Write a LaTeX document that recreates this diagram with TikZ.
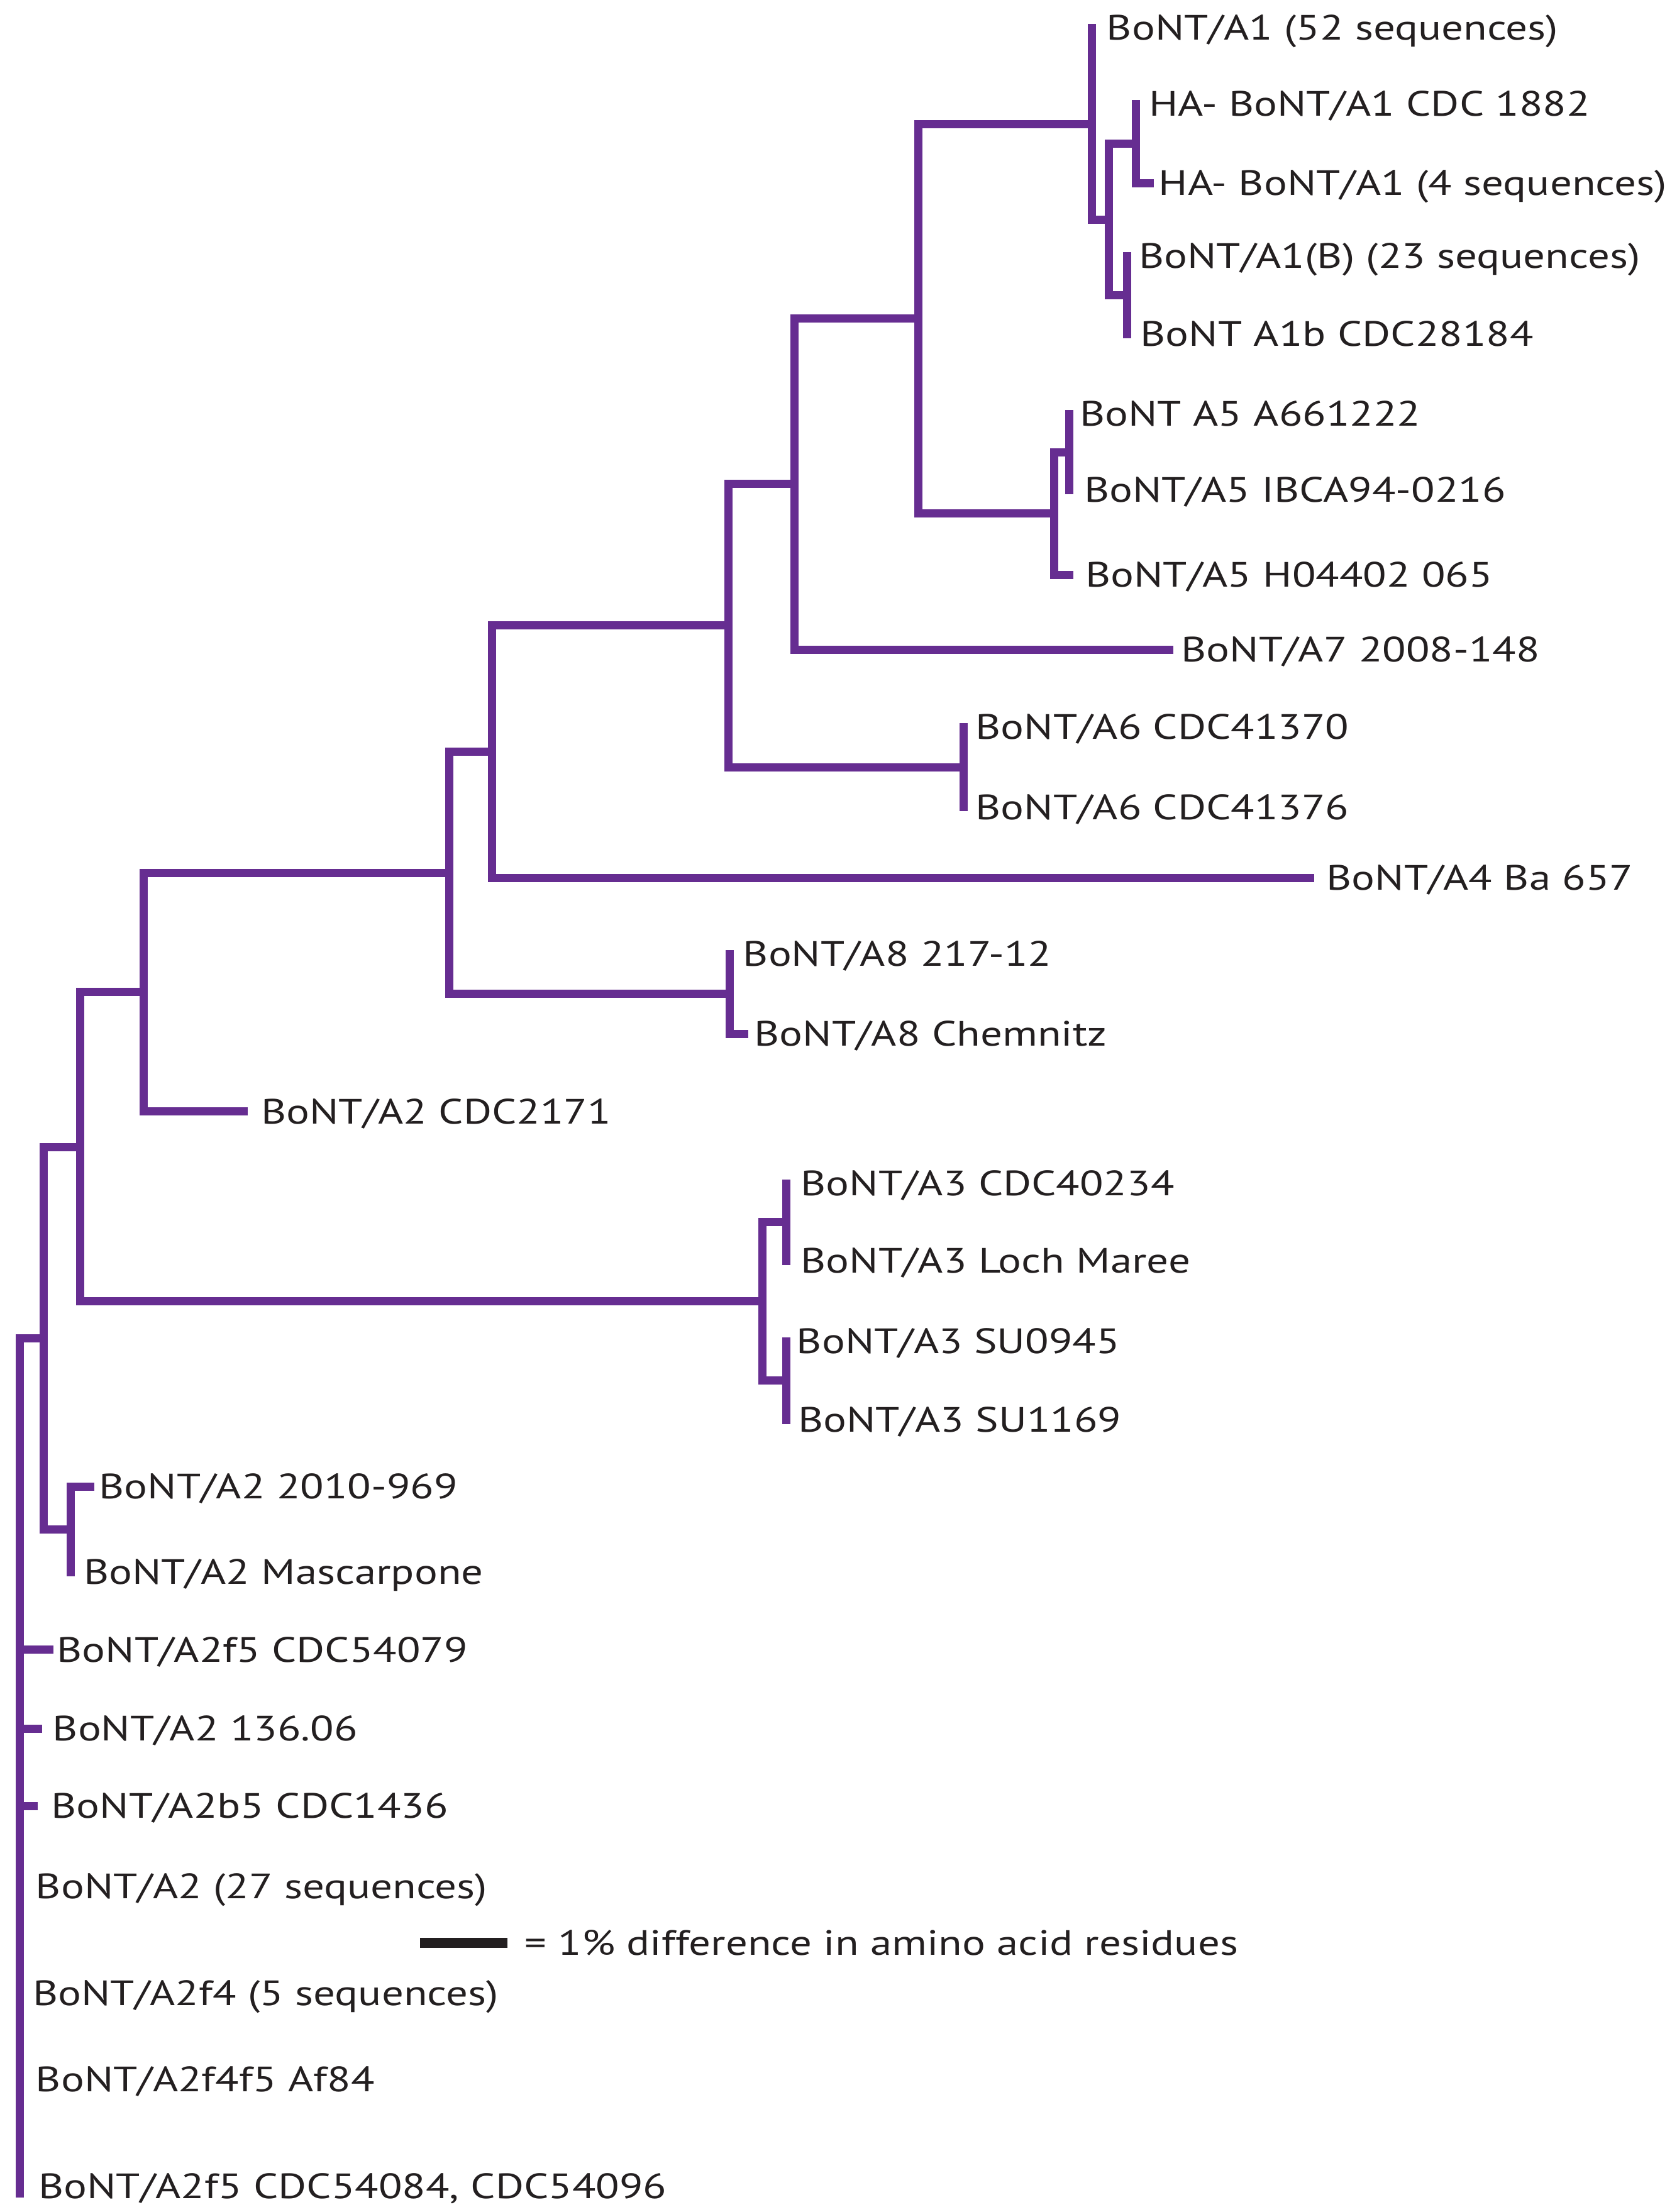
\documentclass[tikz,border=0pt]{standalone}
\usepackage{fontspec}
\setmainfont[FakeStretch=1.23]{PT Sans}
\usepackage{tikz}
\definecolor{treepurple}{RGB}{102,45,145}
\definecolor{labelblack}{RGB}{35,31,32}
\tikzset{
  branch/.style={draw=treepurple, line width=2.9pt, line cap=rect},
  leaf/.style={anchor=west, inner sep=0pt, text height=8.5pt, text depth=0pt, text=labelblack, font=\fontsize{12.5}{14}\selectfont},
  scalebar/.style={draw=labelblack, line width=3.6pt}
}

\begin{document}
\begin{tikzpicture}[x=0.5pt, y=-0.5pt]
  \useasboundingbox (0,0) rectangle (1190,1570);

  % Leaf tips and labels
  \coordinate (a1) at (775,20);      \node[leaf] (a1-l) at (785,20) {BoNT/A1 (52 sequences)};
  \coordinate (ha1882) at (806,74);  \node[leaf] (ha1882-l) at (815,74) {HA- BoNT/A1 CDC 1882};
  \coordinate (ha4) at (816,130);    \node[leaf] (ha4-l) at (822,130) {HA- BoNT/A1 (4 sequences)};
  \coordinate (a1B) at (800,182);    \node[leaf] (a1B-l) at (808,182) {BoNT/A1(B) (23 sequences)};
  \coordinate (a1b) at (800,237);    \node[leaf] (a1b-l) at (809,237) {BoNT A1b CDC28184};
  \coordinate (a5a) at (759,294);    \node[leaf] (a5a-l) at (766,294) {BoNT A5 A661222};
  \coordinate (a5i) at (759,348);    \node[leaf] (a5i-l) at (769,348) {BoNT/A5 IBCA94-0216};
  \coordinate (a5h) at (759,408);    \node[leaf] (a5h-l) at (770,408) {BoNT/A5 H04402 065};
  \coordinate (a7) at (830,461);     \node[leaf] (a7-l) at (838,461) {BoNT/A7 2008-148};
  \coordinate (a6a) at (684,516);    \node[leaf] (a6a-l) at (692,516) {BoNT/A6 CDC41370};
  \coordinate (a6b) at (684,573);    \node[leaf] (a6b-l) at (692,573) {BoNT/A6 CDC41376};
  \coordinate (a4) at (930,623);     \node[leaf] (a4-l) at (941,623) {BoNT/A4 Ba 657};
  \coordinate (a8a) at (518,677);    \node[leaf] (a8a-l) at (527,677) {BoNT/A8 217-12};
  \coordinate (a8c) at (528,734);    \node[leaf] (a8c-l) at (535,734) {BoNT/A8 Chemnitz};
  \coordinate (a2c) at (173,789);    \node[leaf] (a2c-l) at (185,789) {BoNT/A2 CDC2171};
  \coordinate (a3c) at (558,840);    \node[leaf] (a3c-l) at (568,840) {BoNT/A3 CDC40234};
  \coordinate (a3l) at (558,895);    \node[leaf] (a3l-l) at (568,895) {BoNT/A3 Loch Maree};
  \coordinate (a3s1) at (558,952);   \node[leaf] (a3s1-l) at (565,952) {BoNT/A3 SU0945};
  \coordinate (a3s2) at (558,1008);  \node[leaf] (a3s2-l) at (566,1008) {BoNT/A3 SU1169};
  \coordinate (a2m1) at (64,1055);   \node[leaf] (a2m1-l) at (70,1055) {BoNT/A2 2010-969};
  \coordinate (a2m2) at (50,1116);   \node[leaf] (a2m2-l) at (59,1116) {BoNT/A2 Mascarpone};
  \coordinate (a2f5a) at (35,1171);  \node[leaf] (a2f5a-l) at (40,1171) {BoNT/A2f5 CDC54079};
  \coordinate (a2x) at (27,1227);    \node[leaf] (a2x-l) at (37,1227) {BoNT/A2 136.06};
  \coordinate (a2b5) at (24,1282);   \node[leaf] (a2b5-l) at (36,1282) {BoNT/A2b5 CDC1436};
  \coordinate (a2all) at (14,1339);  \node[leaf] (a2all-l) at (25,1339) {BoNT/A2 (27 sequences)};
  \coordinate (a2f4) at (14,1415);   \node[leaf] (a2f4-l) at (23,1415) {BoNT/A2f4 (5 sequences)};
  \coordinate (a2f4f5) at (14,1476); \node[leaf] (a2f4f5-l) at (25,1476) {BoNT/A2f4f5 Af84};
  \coordinate (a2f5b) at (14,1557);  \node[leaf] (a2f5b-l) at (27,1552) {BoNT/A2f5 CDC54084, CDC54096};

  % Internal nodes
  \coordinate (nHA) at (806,102);
  \coordinate (nB) at (800,209.5);
  \coordinate (nY) at (787,156);
  \coordinate (nA1) at (775,88);
  \coordinate (nA5s) at (759,321);
  \coordinate (nA5) at (748,364.5);
  \coordinate (n652) at (652,226);
  \coordinate (n564) at (564,343.5);
  \coordinate (nA6) at (684,544.5);
  \coordinate (n517) at (517,444);
  \coordinate (n349) at (349,533.5);
  \coordinate (nA8) at (518,705.5);
  \coordinate (n318) at (319,619.5);
  \coordinate (n102) at (102,704);
  \coordinate (nA3a) at (558,867.5);
  \coordinate (nA3b) at (558,980);
  \coordinate (nA3) at (541,923.75);
  \coordinate (n57) at (57,814);
  \coordinate (nMas) at (50,1085.5);
  \coordinate (n31) at (31,950);
  \coordinate (root) at (14,1254);

  % Branches
  \draw[branch] (nHA) |- (ha1882) (nHA) |- (ha4);
  \draw[branch] (nB) |- (a1B) (nB) |- (a1b);
  \draw[branch] (nY) |- (nHA) (nY) |- (nB);
  \draw[branch] (nA1) |- (a1) (nA1) |- (nY);
  \draw[branch] (nA5s) |- (a5a) (nA5s) |- (a5i);
  \draw[branch] (nA5) |- (nA5s) (nA5) |- (a5h);
  \draw[branch] (n652) |- (nA1) (n652) |- (nA5);
  \draw[branch] (n564) |- (n652) (n564) |- (a7);
  \draw[branch] (nA6) |- (a6a) (nA6) |- (a6b);
  \draw[branch] (n517) |- (n564) (n517) |- (nA6);
  \draw[branch] (n349) |- (n517) (n349) |- (a4);
  \draw[branch] (nA8) |- (a8a) (nA8) |- (a8c);
  \draw[branch] (n318) |- (n349) (n318) |- (nA8);
  \draw[branch] (n102) |- (n318) (n102) |- (a2c);
  \draw[branch] (nA3a) |- (a3c) (nA3a) |- (a3l);
  \draw[branch] (nA3b) |- (a3s1) (nA3b) |- (a3s2);
  \draw[branch] (nA3) |- (nA3a) (nA3) |- (nA3b);
  \draw[branch] (n57) |- (n102) (n57) |- (nA3);
  \draw[branch] (nMas) |- (a2m1) (nMas) |- (a2m2);
  \draw[branch] (n31) |- (n57) (n31) |- (nMas);
  \draw[branch] (root) |- (n31);
  \foreach \tip in {a2f5a, a2x, a2b5, a2all, a2f4, a2f4f5, a2f5b}
    \draw[branch] (root) |- (\tip);

  % Scale bar
  \coordinate (barL) at (298,1379);
  \coordinate (barR) at (360,1379);
  \draw[scalebar] (barL) -- (barR);
  \node[leaf] (bar-l) at (372,1379) {= 1\% difference in amino acid residues};
\end{tikzpicture}
\end{document}
